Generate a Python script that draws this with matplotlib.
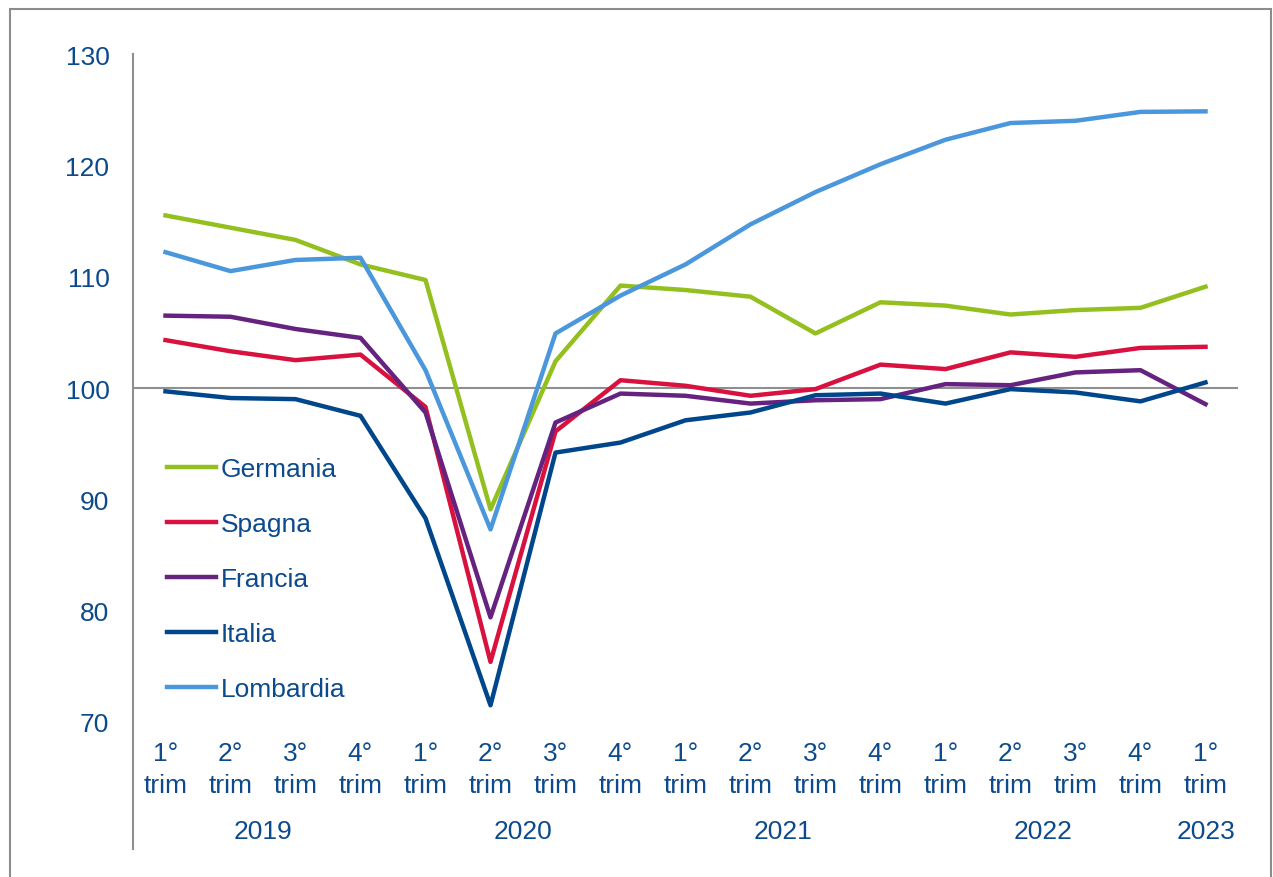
import numpy as np
import matplotlib
matplotlib.use("Agg")
import matplotlib.pyplot as plt
from matplotlib.patches import Rectangle
from matplotlib.lines import Line2D
import matplotlib.transforms as mtransforms

plt.rcParams['font.family'] = ['Liberation Sans', 'DejaVu Sans']

# data, quarterly index
quarters = ["1°", "2°", "3°", "4°", "1°", "2°", "3°", "4°", "1°", "2°", "3°", "4°",
            "1°", "2°", "3°", "4°", "1°"]
years = ["2019", "2020", "2021", "2022", "2023"]
year_pos = [1.5, 5.5, 9.5, 13.5, 16]

germania = [115.5, 114.4, 113.3, 111.1, 109.7, 89.1, 102.4, 109.2, 108.8, 108.2,
            104.9, 107.7, 107.4, 106.6, 107.0, 107.2, 109.1]
spagna = [104.3, 103.3, 102.5, 103.0, 98.3, 75.4, 96.1, 100.7, 100.2, 99.3,
          99.9, 102.1, 101.7, 103.2, 102.8, 103.6, 103.7]
francia = [106.5, 106.4, 105.3, 104.5, 97.8, 79.4, 96.9, 99.5, 99.3, 98.6,
           98.9, 99.0, 100.35, 100.25, 101.4, 101.6, 98.55]
italia = [99.7, 99.1, 99.0, 97.5, 88.3, 71.5, 94.2, 95.1, 97.1, 97.8,
          99.35, 99.5, 98.6, 99.9, 99.6, 98.8, 100.5]
lombardia = [112.2, 110.5, 111.5, 111.7, 101.6, 87.3, 104.9, 108.3, 111.1, 114.7,
             117.6, 120.1, 122.3, 123.8, 124.0, 124.8, 124.85]

series = [("Germania", germania, "#93c01f"),
          ("Spagna", spagna, "#d8113f"),
          ("Francia", francia, "#65237f"),
          ("Italia", italia, "#00468b"),
          ("Lombardia", lombardia, "#4a97dc")]

txt_col = "#0c4a8c"
fs = 19

fig = plt.figure(figsize=(12.73, 8.78), dpi=100)
ax = fig.add_axes([133/1273, 1-723/878, 1105/1273, 668/878])

x = np.arange(len(quarters))
ax.axhline(100, color="#8f8f8f", lw=1.5, zorder=1)
for name, vals, col in series:
    ax.plot(x, vals, color=col, lw=3.2, label=name, zorder=3)

ax.set_xlim(-0.5, 16.5)
ax.set_ylim(70, 130)
ax.set_yticks(np.arange(70, 131, 10))
ax.set_xticks(x)
ax.set_xticklabels([q + "\ntrim" for q in quarters])
for lbl in ax.get_xticklabels():
    lbl.set_linespacing(1.4)
ax.tick_params(axis="both", length=0, labelsize=fs, labelcolor=txt_col)
ax.tick_params(axis="y", pad=17)
ax.tick_params(axis="x", pad=14)
for s in ax.spines.values():
    s.set_visible(False)

# left axis line extends below the plot
ax.add_line(Line2D([0, 0], [1, -0.19], transform=ax.transAxes, color="#8f8f8f",
                   lw=1.5, clip_on=False))

trans = mtransforms.blended_transform_factory(ax.transData, ax.transAxes)
for yr, xp in zip(years, year_pos):
    ax.text(xp, -0.163, yr, transform=trans, ha="center", va="center",
            fontsize=fs, color=txt_col)

leg = ax.legend(loc="upper left", bbox_to_anchor=(0.0305, 0.397), frameon=False,
                fontsize=fs, handlelength=1.85, handletextpad=0.2,
                labelspacing=1.18, borderpad=0, borderaxespad=0)
for t in leg.get_texts():
    t.set_color(txt_col)

# outer frame
fig.patches.append(Rectangle((10/1273, -0.05), 1261/1273, 1.05 - 10/878,
                             transform=fig.transFigure, fill=False,
                             edgecolor="#8c8c8c", lw=1.5))

fig.savefig("out.png", dpi=100)
